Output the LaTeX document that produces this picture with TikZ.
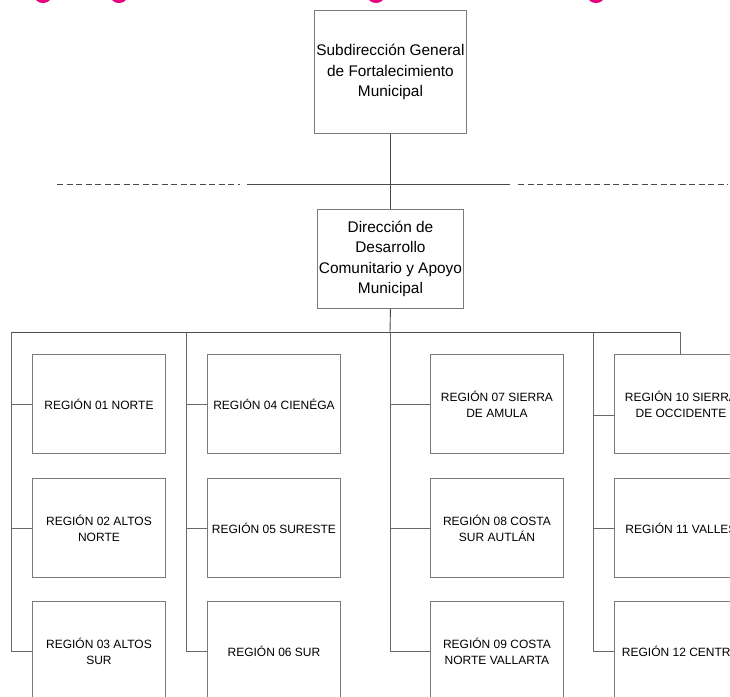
\documentclass[tikz,border=0pt]{standalone}
\usepackage{fontspec}
\setmainfont{Liberation Sans}
\definecolor{boxline}{HTML}{7A7A7A}
\definecolor{linkline}{HTML}{4A4A4A}
\definecolor{brandpink}{HTML}{E5007D}
\begin{document}
\begin{tikzpicture}[x=1pt,y=-1pt,
  headbox/.style={draw=boxline,line width=0.9pt,inner sep=0pt,align=center,
    font=\fontsize{15.4}{20.6}\selectfont,anchor=north west},
  regbox/.style={draw=boxline,line width=0.9pt,inner sep=0pt,align=center,
    minimum width=133pt,minimum height=99pt,anchor=north west,
    font=\fontsize{12}{16.2}\selectfont},
  link/.style={draw=linkline,line width=0.9pt},
  sublink/.style={draw=boxline!85!black,line width=0.9pt},
  dashlink/.style={draw=linkline,line width=0.9pt,dash pattern=on 6pt off 3.5pt}]
\useasboundingbox (0,0) rectangle (730,696);
\clip (0,0) rectangle (730,696);
\fill[white] (0,0) rectangle (730,696);

% letter bottoms of the heading cut by the top edge
\foreach \px in {43,119,376,596}
  \fill[brandpink] (\px,-4) ellipse [x radius=8.5,y radius=7];

% upper levels
\node[headbox,minimum width=152pt,minimum height=123pt] (sub) at (314,10)
  {Subdirección General\\de Fortalecimiento\\Municipal};
\node[headbox,minimum width=146pt,minimum height=99pt] (dir) at (317,209)
  {Dirección de\\Desarrollo\\Comunitario y Apoyo\\Municipal};

\coordinate (hl) at (247,184);
\coordinate (hr) at (510,184);
\coordinate (dl0) at (57,184);
\coordinate (dl1) at (240,184);
\coordinate (dr0) at (518,184);
\coordinate (dr1) at (728,184);
\draw[link] (sub.south) -- (dir.north);
\draw[link] (hl) -- (hr);
\draw[dashlink] (dl0) -- (dl1);
\draw[dashlink] (dr0) -- (dr1);

% regional boxes
\node[regbox] (r01) at (32,354)  {REGIÓN 01 NORTE};
\node[regbox] (r02) at (32,478)  {REGIÓN 02 ALTOS\\NORTE};
\node[regbox] (r03) at (32,601)  {REGIÓN 03 ALTOS\\SUR};
\node[regbox] (r04) at (207,354) {REGIÓN 04 CIENÉGA};
\node[regbox] (r05) at (207,478) {REGIÓN 05 SURESTE};
\node[regbox] (r06) at (207,601) {REGIÓN 06 SUR};
\node[regbox] (r07) at (430,354) {REGIÓN 07 SIERRA\\DE AMULA};
\node[regbox] (r08) at (430,478) {REGIÓN 08 COSTA\\SUR AUTLÁN};
\node[regbox] (r09) at (430,601) {REGIÓN 09 COSTA\\NORTE VALLARTA};
\node[regbox] (r10) at (614,354) {REGIÓN 10 SIERRA\\DE OCCIDENTE};
\node[regbox] (r11) at (614,478) {REGIÓN 11 VALLES};
\node[regbox] (r12) at (614,601) {REGIÓN 12 CENTRO};

% distribution bar and column trunks
\coordinate (b1) at (11,332);
\coordinate (b2) at (186,332);
\coordinate (b3) at (390,332);
\coordinate (b4) at (593,332);
\coordinate (b5) at (680,332);
\draw[link] (dir.south) -- (b3);
\draw[link] (b1) -- (b5);
\draw[sublink] (b5) -- (r10.north -| b5);

\draw[sublink] (b1) |- (r03.west);
\draw[sublink] (b1 |- r01.west) -- (r01.west);
\draw[sublink] (b1 |- r02.west) -- (r02.west);

\draw[sublink] (b2) |- (r06.west);
\draw[sublink] (b2 |- r04.west) -- (r04.west);
\draw[sublink] (b2 |- r05.west) -- (r05.west);

\draw[sublink] (b3) |- (r09.west);
\draw[sublink] (b3 |- r07.west) -- (r07.west);
\draw[sublink] (b3 |- r08.west) -- (r08.west);

\coordinate (r10in) at (614,415);
\draw[sublink] (b4) |- (r12.west);
\draw[sublink] (b4 |- r10in) -- (r10in);
\draw[sublink] (b4 |- r11.west) -- (r11.west);
\end{tikzpicture}
\end{document}
